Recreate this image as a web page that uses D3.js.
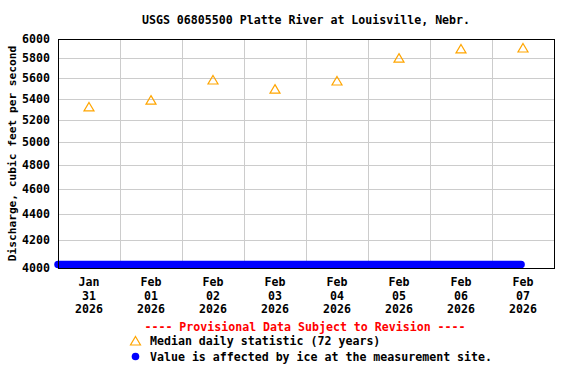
<html>
<head>
<meta charset="utf-8">
<script src="https://d3js.org/d3.v7.min.js"></script>
<title>USGS 06805500 Platte River at Louisville, Nebr.</title>
<style>
  body { margin: 0; padding: 0; background: #fff; }
  text { font-family: "DejaVu Sans Mono", "Liberation Mono", monospace; font-weight: bold; }
</style>
</head>
<body>
<script>
// chart data
var title = "USGS 06805500 Platte River at Louisville, Nebr.";
var yLabel = "Discharge, cubic feet per second";
var dayTicks = ["2026-01-31", "2026-02-01", "2026-02-02", "2026-02-03",
                "2026-02-04", "2026-02-05", "2026-02-06", "2026-02-07"];
var dayLabels = [["Jan", "31", "2026"], ["Feb", "01", "2026"], ["Feb", "02", "2026"], ["Feb", "03", "2026"],
                 ["Feb", "04", "2026"], ["Feb", "05", "2026"], ["Feb", "06", "2026"], ["Feb", "07", "2026"]];
var medianValues = [5320, 5385, 5580, 5490, 5570, 5800, 5895, 5905];
var yTicks = [4000, 4200, 4400, 4600, 4800, 5000, 5200, 5400, 5600, 5800, 6000];
// ice-affected record: start, end, plotted value
var iceStart = ["2026-01-31T00:00"];
var iceEnd = ["2026-02-07T11:15"];
var iceValue = [4025];
var legendTitle = "---- Provisional Data Subject to Revision ----";
var legendItems = ["Median daily statistic (72 years)", "Value is affected by ice at the measurement site."];

var width = 576, height = 384;
var margin = {top: 39, right: 22, bottom: 116, left: 58};
var parse = d3.utcParse("%Y-%m-%dT%H:%M");
var parseDay = d3.utcParse("%Y-%m-%d");

var svg = d3.select("body").append("svg")
    .attr("width", width).attr("height", height);

var x = d3.scaleUtc()
    .domain([parseDay("2026-01-31"), parseDay("2026-02-08")])
    .range([margin.left, width - margin.right]);
var y = d3.scaleLog()
    .domain([4000, 6000])
    .range([height - margin.bottom, margin.top]);

var noon = function(s) { return d3.utcHour.offset(parseDay(s), 12); };

// title
svg.append("text")
    .attr("x", 306).attr("y", 24)
    .attr("text-anchor", "middle")
    .style("font-size", "11.6px")
    .text(title);

// grid
var grid = svg.append("g").attr("stroke", "#cccccc").attr("stroke-width", 1);
grid.selectAll(".hg").data(yTicks.slice(1, -1)).enter().append("line")
    .attr("x1", margin.left).attr("x2", width - margin.right)
    .attr("y1", function(d) { return Math.round(y(d)) + 0.5; })
    .attr("y2", function(d) { return Math.round(y(d)) + 0.5; });
grid.selectAll(".vg").data(x.ticks(d3.utcDay.every(1)).slice(1, -1)).enter().append("line")
    .attr("y1", margin.top).attr("y2", height - margin.bottom)
    .attr("x1", function(d) { return Math.round(x(d)) + 0.5; })
    .attr("x2", function(d) { return Math.round(x(d)) + 0.5; });

// y axis labels
svg.append("g").selectAll("text").data(yTicks).enter().append("text")
    .attr("x", 50)
    .attr("y", function(d) { return y(d) + 4; })
    .attr("text-anchor", "end")
    .style("font-size", "11.6px")
    .text(function(d) { return d; });

svg.append("text")
    .attr("transform", "translate(16," + ((margin.top + height - margin.bottom) / 2) + ") rotate(-90)")
    .attr("text-anchor", "middle")
    .style("font-size", "11.2px")
    .text(yLabel);

// x axis labels
var xl = svg.append("g").selectAll("text").data(dayTicks).enter().append("text")
    .attr("text-anchor", "middle")
    .style("font-size", "11.6px");
xl.each(function(d, i) {
  var t = d3.select(this);
  dayLabels[i].forEach(function(s, j) {
    t.append("tspan").attr("x", x(noon(d))).attr("y", 286 + j * 13.5).text(s);
  });
});

// ice-affected values
var iceData = iceStart.map(function(s, i) {
  return [{t: parse(s), v: iceValue[i]}, {t: parse(iceEnd[i]), v: iceValue[i]}];
});
svg.append("g").selectAll("path").data(iceData).enter().append("path")
    .attr("d", d3.line().x(function(d) { return x(d.t); }).y(function(d) { return y(d.v); }))
    .attr("fill", "none")
    .attr("stroke", "#0000ff")
    .attr("stroke-width", 7.5)
    .attr("stroke-linecap", "round");

// plot frame
svg.append("rect")
    .attr("x", margin.left + 0.5).attr("y", margin.top + 0.5)
    .attr("width", width - margin.left - margin.right)
    .attr("height", height - margin.top - margin.bottom)
    .attr("fill", "none").attr("stroke", "#000");

// median triangles
function tri(cx, cy) {
  return "M" + cx + "," + (cy - 4.5) + "L" + (cx + 5) + "," + (cy + 4) + "L" + (cx - 5) + "," + (cy + 4) + "Z";
}
svg.append("g").selectAll("path").data(medianValues).enter().append("path")
    .attr("d", function(d, i) { return tri(x(noon(dayTicks[i])), y(d)); })
    .attr("fill", "none")
    .attr("stroke", "#ffa500")
    .attr("stroke-width", 1.2);

// legend
svg.append("text")
    .attr("x", 305).attr("y", 331)
    .attr("text-anchor", "middle")
    .attr("fill", "#ff0000")
    .style("font-size", "11.6px")
    .text(legendTitle);
svg.append("path")
    .attr("d", tri(135.5, 341))
    .attr("fill", "none").attr("stroke", "#ffa500").attr("stroke-width", 1.2);
svg.append("circle")
    .attr("cx", 135.5).attr("cy", 356.5).attr("r", 3.8)
    .attr("fill", "#0000ff");
svg.append("g").selectAll("text").data(legendItems).enter().append("text")
    .attr("x", 150)
    .attr("y", function(d, i) { return 345 + i * 15.5; })
    .style("font-size", "11.6px")
    .text(function(d) { return d; });
</script>
</body>
</html>
